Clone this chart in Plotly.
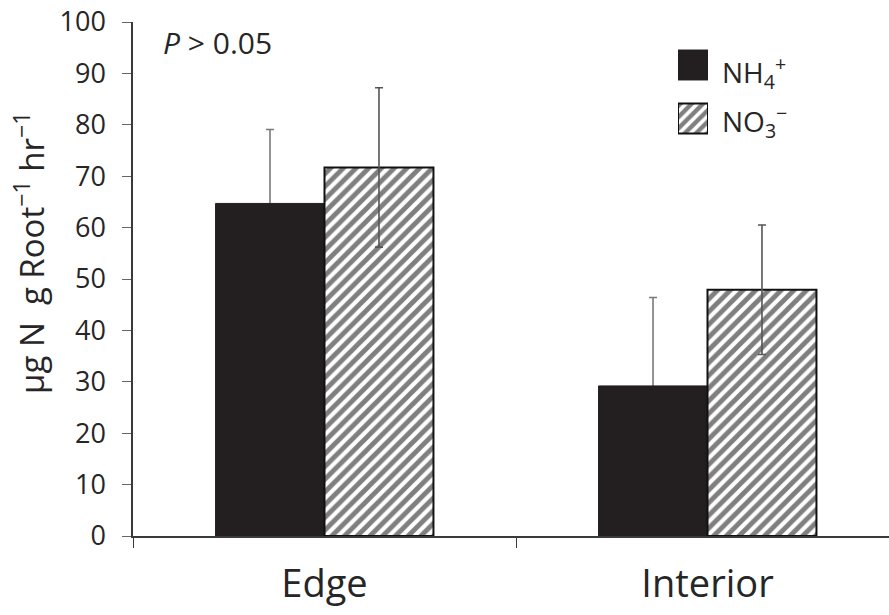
import plotly.graph_objects as go

categories = ["Edge", "Interior"]
nh4_values = [64.7, 29.2]
nh4_errors = [14.4, 17.2]
no3_values = [71.7, 47.9]
no3_errors = [15.5, 12.6]
y_ticks = [0, 10, 20, 30, 40, 50, 60, 70, 80, 90, 100]
series_names = ["NH<sub>4</sub><sup>+</sup>", "NO<sub>3</sub><sup>−</sup>"]

W, H = 889, 615
L, R, T, B = 133, 0, 22, 79
pw = W - L - R
ph = H - T - B

def px(x):
    return (x - L) / pw

def py(y):
    return (H - B - y) / ph

FONT = "Open Sans"
TXT = "#262626"
AX = "#3a3a3a"
BLACK = "#231f20"
HATCH = dict(shape="/", fgcolor="#000000", bgcolor="white", size=9, solidity=0.55)

fig = go.Figure()

# NH4 error bars drawn first (transparent bar), so the solid bar covers the lower whisker
fig.add_trace(go.Bar(
    x=categories, y=nh4_values, name="NH4+ err", offsetgroup="nh4",
    marker=dict(color="rgba(0,0,0,0)", line=dict(width=0)),
    error_y=dict(type="data", array=nh4_errors, visible=True,
                 color="#7a7a7a", thickness=1.6, width=4),
    showlegend=False, hoverinfo="skip",
))
fig.add_trace(go.Bar(
    x=categories, y=nh4_values, name="NH4+", offsetgroup="nh4",
    marker=dict(color=BLACK, line=dict(color=BLACK, width=1)),
    showlegend=False,
))
fig.add_trace(go.Bar(
    x=categories, y=no3_values, name="NO3-", offsetgroup="no3",
    marker=dict(color="white", line=dict(color="#111111", width=2),
                pattern=HATCH),
    error_y=dict(type="data", array=no3_errors, visible=True,
                 color="#555555", thickness=1.6, width=4),
    showlegend=False,
))

# legend swatches in a small inset axis
fig.add_trace(go.Bar(
    x=[1], y=[1], orientation="h", xaxis="x2", yaxis="y2", width=0.56,
    marker=dict(color=BLACK, line=dict(color=BLACK, width=1)),
    showlegend=False, hoverinfo="skip",
))
fig.add_trace(go.Bar(
    x=[1], y=[0], orientation="h", xaxis="x2", yaxis="y2", width=0.56,
    marker=dict(color="white", line=dict(color="#111111", width=2),
                pattern=dict(shape="/", fgcolor="#000000", bgcolor="white",
                             size=8, solidity=0.55)),
    showlegend=False, hoverinfo="skip",
))

span = pw / 383.0
fig.update_layout(
    width=W, height=H,
    margin=dict(l=L, r=R, t=T, b=B, pad=0),
    paper_bgcolor="white", plot_bgcolor="white",
    barmode="group", bargap=0.431, bargroupgap=0,
    font=dict(family=FONT, color=TXT),
    xaxis=dict(
        range=[-0.5, -0.5 + span], type="category",
        showline=True, linecolor=AX, linewidth=1.5,
        ticks="outside", tickson="boundaries", ticklen=10,
        tickcolor=AX, tickwidth=1.2,
        tickfont=dict(size=38, family=FONT, color=TXT),
        ticklabelstandoff=14,
        showgrid=False, zeroline=False,
    ),
    yaxis=dict(
        range=[0, 100], tickvals=y_ticks,
        showline=True, linecolor=AX, linewidth=1.5,
        ticks="outside", ticklen=9, tickcolor="#666666", tickwidth=1.2,
        tickfont=dict(size=27, family=FONT, color=TXT),
        ticklabelstandoff=11,
        showgrid=False, zeroline=False,
    ),
    xaxis2=dict(domain=[px(678), px(708)], range=[0, 1], anchor="y2",
                visible=False, fixedrange=True),
    yaxis2=dict(domain=[py(145.25), py(38.25)], range=[-0.5, 1.5],
                anchor="x2", visible=False, fixedrange=True),
    annotations=[
        dict(text="μg N  g Root<sup>−1</sup> hr<sup>−1</sup>",
             textangle=-90, xref="paper", yref="paper",
             x=px(30), y=py(253), xanchor="center", yanchor="middle",
             showarrow=False, font=dict(size=33, family=FONT, color=TXT)),
        dict(text="<i>P</i> > 0.05", xref="paper", yref="paper",
             x=px(161), y=py(43), xanchor="left", yanchor="middle",
             showarrow=False, font=dict(size=30, family=FONT, color=TXT)),
        dict(text=series_names[0], xref="paper", yref="paper",
             x=px(720), y=py(72), xanchor="left", yanchor="middle",
             showarrow=False, font=dict(size=28, family=FONT, color=TXT)),
        dict(text=series_names[1], xref="paper", yref="paper",
             x=px(720), y=py(122), xanchor="left", yanchor="middle",
             showarrow=False, font=dict(size=28, family=FONT, color=TXT)),
    ],
)

fig.write_html("out.html")
